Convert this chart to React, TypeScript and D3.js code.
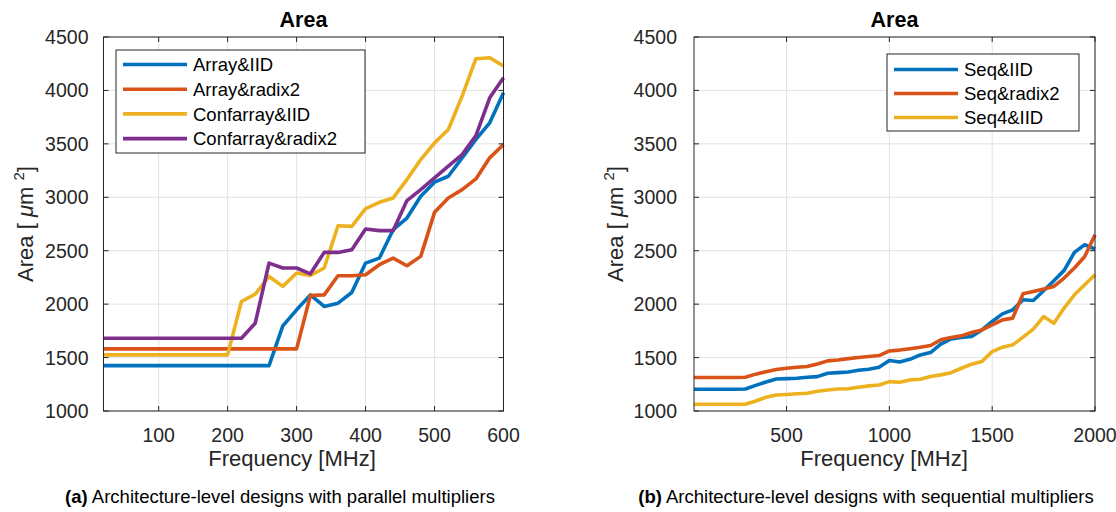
import * as d3 from "d3";

// ---- data ----
const freqParallel = [
  20, 40, 60, 80, 100, 120, 140, 160, 180, 200, 220, 240, 260, 280, 300,
  320, 340, 360, 380, 400, 420, 440, 460, 480, 500, 520, 540, 560, 580, 600,
];
const arrayIID = [
  1425, 1425, 1425, 1425, 1425, 1425, 1425, 1425, 1425, 1425, 1425, 1425, 1425, 1797, 1947,
  2087, 1978, 2009, 2109, 2384, 2431, 2697, 2806, 3009, 3141, 3197, 3369, 3541, 3697, 3978,
];
const arrayRadix2 = [
  1581, 1581, 1581, 1581, 1581, 1581, 1581, 1581, 1581, 1581, 1581, 1581, 1581, 1581, 1581,
  2081, 2087, 2266, 2266, 2275, 2369, 2431, 2359, 2447, 2859, 2994, 3072, 3172, 3369, 3494,
];
const confarrayIID = [
  1525, 1525, 1525, 1525, 1525, 1525, 1525, 1525, 1525, 1525, 2025, 2094, 2259, 2166, 2291,
  2269, 2338, 2734, 2728, 2894, 2953, 2994, 3166, 3353, 3509, 3634, 3947, 4297, 4306, 4228,
];
const confarrayRadix2 = [
  1681, 1681, 1681, 1681, 1681, 1681, 1681, 1681, 1681, 1681, 1681, 1822, 2384, 2338, 2338,
  2284, 2484, 2484, 2509, 2703, 2688, 2688, 2969, 3072, 3181, 3291, 3400, 3578, 3931, 4119,
];

const freqSequential = [
  50, 100, 150, 200, 250, 300, 350, 400, 450, 500, 550, 600, 650, 700, 750, 800, 850, 900, 950, 1000,
  1050, 1100, 1150, 1200, 1250, 1300, 1350, 1400, 1450, 1500, 1550, 1600, 1650, 1700, 1750, 1800, 1850, 1900, 1950, 2000,
];
const seqIID = [
  1203, 1203, 1203, 1203, 1203, 1206, 1240, 1272, 1300, 1303, 1306, 1316, 1322, 1353, 1359, 1365, 1381, 1391, 1409, 1472,
  1459, 1484, 1525, 1547, 1625, 1675, 1688, 1697, 1759, 1838, 1909, 1947, 2041, 2034, 2125, 2219, 2316, 2484, 2556, 2516,
];
const seqRadix2 = [
  1314, 1314, 1314, 1314, 1314, 1316, 1345, 1368, 1388, 1400, 1410, 1416, 1440, 1469, 1478, 1490, 1500, 1510, 1519, 1562,
  1570, 1583, 1597, 1613, 1666, 1688, 1703, 1734, 1759, 1806, 1853, 1869, 2097, 2119, 2141, 2166, 2244, 2338, 2446, 2650,
];
const seq4IID = [
  1063, 1063, 1063, 1063, 1063, 1063, 1094, 1128, 1150, 1155, 1162, 1166, 1185, 1197, 1206, 1208, 1222, 1235, 1244, 1275,
  1269, 1291, 1297, 1322, 1338, 1359, 1400, 1438, 1463, 1556, 1597, 1619, 1691, 1766, 1884, 1822, 1963, 2088, 2181, 2275,
];

const yTicks = [1000, 1500, 2000, 2500, 3000, 3500, 4000, 4500];
const xTicksParallel = [100, 200, 300, 400, 500, 600];
const xTicksSequential = [500, 1000, 1500, 2000];

const namesParallel = ["Array&IID", "Array&radix2", "Confarray&IID", "Confarray&radix2"];
const namesSequential = ["Seq&IID", "Seq&radix2", "Seq4&IID"];

const COLORS = ["#0072BD", "#D95319", "#EDB120", "#7E2F8E"];
const FONT = "'Liberation Sans', Arial, Helvetica, sans-serif";
const AX = "#262626";
const GRID = "#e3e3e3";

type LegendBox = { x: number; y: number; w: number; h: number; first: number; step: number };

type PanelProps = {
  x0: number;
  x1: number;
  xDomain: [number, number];
  xTicks: number[];
  freq: number[];
  series: number[][];
  names: string[];
  legend: LegendBox;
  yLabelGap: number;
  xLabelX: number;
  tag: string;
  caption: string;
  captionX: number;
};

const Panel = ({ x0, x1, xDomain, xTicks, freq, series, names, legend, yLabelGap, xLabelX, tag, caption, captionX }: PanelProps) => {
  const x = d3.scaleLinear().domain(xDomain).range([x0, x1]);
  const y = d3.scaleLinear().domain([1000, 4500]).range([411, 37]);
  const line = d3
    .line<number>()
    .x((_, i) => x(freq[i]))
    .y((d) => y(d));
  const cx = (x0 + x1) / 2;
  const top = y(4500);
  const bottom = y(1000);
  const tickLen = 5;

  return (
    <g>
      {/* grid */}
      {xTicks.map((t) => (
        <line key={"gx" + t} x1={x(t)} x2={x(t)} y1={top} y2={bottom} stroke={GRID} strokeWidth={1} />
      ))}
      {yTicks.map((t) => (
        <line key={"gy" + t} x1={x0} x2={x1} y1={y(t)} y2={y(t)} stroke={GRID} strokeWidth={1} />
      ))}

      {/* series */}
      {series.map((s, i) => (
        <path key={"s" + i} d={line(s) || ""} fill="none" stroke={COLORS[i]} strokeWidth={3.6} strokeLinejoin="round" />
      ))}

      {/* box and ticks */}
      <rect x={x0} y={top} width={x1 - x0} height={bottom - top} fill="none" stroke={AX} strokeWidth={1} />
      {xTicks.map((t) => (
        <g key={"tx" + t}>
          <line x1={x(t)} x2={x(t)} y1={bottom} y2={bottom - tickLen} stroke={AX} />
          <line x1={x(t)} x2={x(t)} y1={top} y2={top + tickLen} stroke={AX} />
          <text x={x(t)} y={442} textAnchor="middle" fontSize={19.5} fill={AX}>
            {t}
          </text>
        </g>
      ))}
      {yTicks.map((t) => (
        <g key={"ty" + t}>
          <line x1={x0} x2={x0 + tickLen} y1={y(t)} y2={y(t)} stroke={AX} />
          <line x1={x1} x2={x1 - tickLen} y1={y(t)} y2={y(t)} stroke={AX} />
          <text x={x0 - yLabelGap} y={y(t)} dy="0.36em" textAnchor="end" fontSize={19.5} fill={AX}>
            {t}
          </text>
        </g>
      ))}

      {/* labels */}
      <text x={cx} y={26.5} textAnchor="middle" fontSize={21.5} fontWeight="bold" fill="#000">
        Area
      </text>
      <text x={xLabelX} y={466} textAnchor="middle" fontSize={22} fill={AX}>
        Frequency [MHz]
      </text>
      <text transform={`translate(${x0 - 71},${(top + bottom) / 2}) rotate(-90)`} textAnchor="middle" fontSize={22} fill={AX}>
        {"Area [ "}
        <tspan fontStyle="italic">μ</tspan>
        {"m "}
        <tspan fontSize={15} dy={-9}>2</tspan>
        <tspan dy={9}>{"]"}</tspan>
      </text>

      {/* legend */}
      <rect x={legend.x} y={legend.y} width={legend.w} height={legend.h} fill="#fff" stroke={AX} strokeWidth={1} />
      {names.map((n, i) => {
        const ly = legend.y + legend.first + i * legend.step;
        return (
          <g key={"l" + n}>
            <line x1={legend.x + 7} x2={legend.x + 71} y1={ly} y2={ly} stroke={COLORS[i]} strokeWidth={3.6} />
            <text x={legend.x + 77} y={ly} dy="0.36em" fontSize={18.5} fill="#000">
              {n}
            </text>
          </g>
        );
      })}

      {/* caption */}
      <text x={captionX} y={503} textAnchor="middle" fontSize={18.5} fill="#000">
        <tspan fontWeight="bold">{tag}</tspan>
        {" " + caption}
      </text>
    </g>
  );
};

export default function App() {
  return (
    <svg
      width={1116}
      height={512}
      style={{ position: "absolute", left: 0, top: 0, background: "#fff" }}
      fontFamily={FONT}
    >
      <rect width={1116} height={512} fill="#fff" />
      <Panel
        x0={103.5}
        x1={503.5}
        xDomain={[20, 600]}
        xTicks={xTicksParallel}
        freq={freqParallel}
        series={[arrayIID, arrayRadix2, confarrayIID, confarrayRadix2]}
        names={namesParallel}
        legend={{ x: 116, y: 50, w: 249, h: 103, first: 14.5, step: 24.7 }}
        yLabelGap={15}
        xLabelX={292}
        tag="(a)"
        caption="Architecture-level designs with parallel multipliers"
        captionX={280}
      />
      <Panel
        x0={694}
        x1={1095}
        xDomain={[50, 2000]}
        xTicks={xTicksSequential}
        freq={freqSequential}
        series={[seqIID, seqRadix2, seq4IID]}
        names={namesSequential}
        legend={{ x: 887, y: 54, w: 192, h: 77, first: 15.5, step: 24 }}
        yLabelGap={17}
        xLabelX={884}
        tag="(b)"
        caption="Architecture-level designs with sequential multipliers"
        captionX={866}
      />
    </svg>
  );
}
